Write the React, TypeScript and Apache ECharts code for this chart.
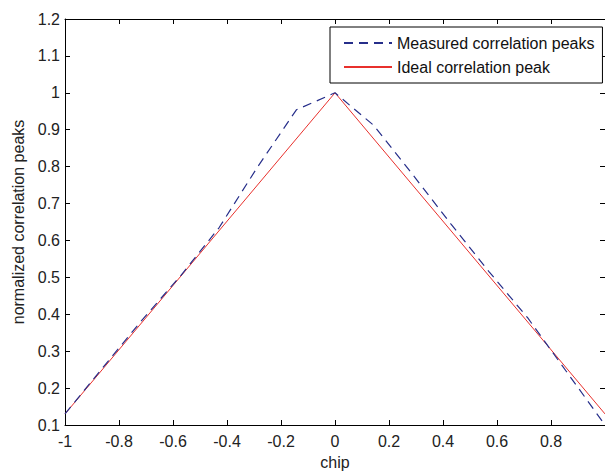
import React, { useEffect, useRef } from "react";
import * as echarts from "echarts";

const xMeasured = [-1, -0.857, -0.714, -0.571, -0.429, -0.286, -0.143, 0, 0.143, 0.286, 0.429, 0.571, 0.714, 0.857, 1];
const yMeasured = [0.13, 0.258, 0.385, 0.505, 0.635, 0.8, 0.954, 1, 0.912, 0.78, 0.645, 0.515, 0.39, 0.245, 0.1];
const xIdeal = [-1, 0, 1];
const yIdeal = [0.13, 1, 0.13];
const seriesNames = ["Measured correlation peaks", "Ideal correlation peak"];
const xLabel = "chip";
const yLabel = "normalized correlation peaks";

const FONT = "'Liberation Sans', Arial, Helvetica, sans-serif";

export default function App() {
  const ref = useRef<HTMLDivElement>(null);
  useEffect(() => {
    if (!ref.current) return;
    const chart = echarts.init(ref.current, null, { renderer: "svg" });
    const axisLine = { show: true, onZero: false, lineStyle: { color: "#000", width: 1 } };
    const axisTick = { show: true, inside: true, length: 5, lineStyle: { color: "#000", width: 1 } };
    const grid = { left: 65, top: 19, width: 545, height: 415 };
    chart.setOption({
      animation: false,
      backgroundColor: "#fff",
      grid,
      legend: {
        left: 330,
        top: 27,
        orient: "vertical",
        data: seriesNames,
        backgroundColor: "#fff",
        borderColor: "#000",
        borderWidth: 1,
        borderRadius: 0,
        padding: [8, 8, 8, 13],
        itemWidth: 48,
        itemHeight: 14,
        itemGap: 8,
        itemStyle: { opacity: 0 },
        textStyle: { fontSize: 16, color: "#111", fontFamily: FONT },
      },
      xAxis: [
        {
          type: "value",
          min: -1,
          max: 1,
          interval: 0.2,
          position: "bottom",
          axisLine,
          axisTick,
          splitLine: { show: false },
          axisLabel: { show: true, margin: 8, fontSize: 16, color: "#222", fontFamily: FONT, showMaxLabel: false },
          name: xLabel,
          nameLocation: "middle",
          nameGap: 29,
          nameTextStyle: { fontSize: 16, color: "#222", fontFamily: FONT },
        },
        {
          type: "value",
          min: -1,
          max: 1,
          interval: 0.2,
          position: "top",
          axisLine,
          axisTick,
          splitLine: { show: false },
          axisLabel: { show: false },
        },
      ],
      yAxis: [
        {
          type: "value",
          min: 0.1,
          max: 1.2,
          interval: 0.1,
          position: "left",
          axisLine,
          axisTick,
          splitLine: { show: false },
          axisLabel: { show: true, margin: 5, fontSize: 16, color: "#222", fontFamily: FONT },
          name: yLabel,
          nameLocation: "middle",
          nameGap: 37,
          nameTextStyle: { fontSize: 16, color: "#222", fontFamily: FONT },
        },
        {
          type: "value",
          min: 0.1,
          max: 1.2,
          interval: 0.1,
          position: "right",
          axisLine,
          axisTick,
          splitLine: { show: false },
          axisLabel: { show: false },
        },
      ],
      series: [
        {
          name: seriesNames[0],
          type: "line",
          symbol: "none",
          data: xMeasured.map((x, i) => [x, yMeasured[i]]),
          lineStyle: { color: "#262e8a", width: 1.2, type: [9, 6] },
          itemStyle: { color: "#262e8a" },
          z: 3,
        },
        {
          name: seriesNames[1],
          type: "line",
          symbol: "none",
          data: xIdeal.map((x, i) => [x, yIdeal[i]]),
          lineStyle: { color: "#e8302c", width: 1 },
          itemStyle: { color: "#e8302c" },
          z: 2,
        },
      ],
    });
    return () => chart.dispose();
  }, []);
  return (
    <div
      ref={ref}
      style={{ position: "fixed", left: 0, top: 0, width: 605, height: 475, background: "#fff" }}
    />
  );
}
